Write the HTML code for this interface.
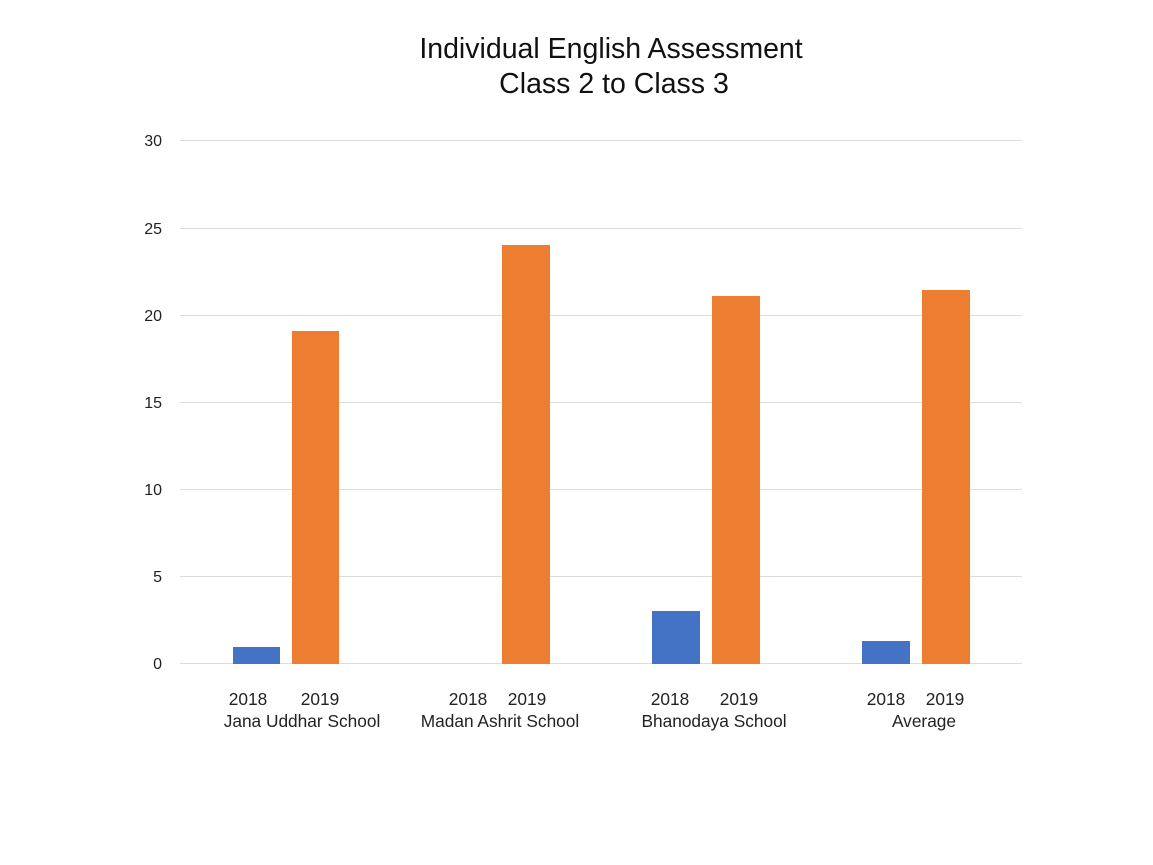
<!DOCTYPE html>
<html><head><meta charset="utf-8"><style>body{margin:0;background:#fff}svg{display:block}</style></head>
<body>
<svg width="1153" height="865" xmlns="http://www.w3.org/2000/svg" font-family="Liberation Sans, sans-serif">
<rect width="1153" height="865" fill="#fff"/>
<text x="611" y="58" font-size="28.5" text-anchor="middle" fill="#111">Individual English Assessment</text>
<text x="614" y="93" font-size="28.5" text-anchor="middle" fill="#111">Class 2 to Class 3</text>
<g stroke="#dcdcdc" stroke-width="1">
<line x1="180" x2="1022" y1="140.5" y2="140.5"/>
<line x1="180" x2="1022" y1="228.5" y2="228.5"/>
<line x1="180" x2="1022" y1="315.5" y2="315.5"/>
<line x1="180" x2="1022" y1="402.5" y2="402.5"/>
<line x1="180" x2="1022" y1="489.5" y2="489.5"/>
<line x1="180" x2="1022" y1="576.5" y2="576.5"/>
<line x1="180" x2="1022" y1="663.5" y2="663.5"/>
</g>
<g font-size="16" fill="#222" text-anchor="end">
<text x="162" y="146">30</text><text x="162" y="234">25</text><text x="162" y="321">20</text>
<text x="162" y="408">15</text><text x="162" y="495">10</text><text x="162" y="582">5</text><text x="162" y="669">0</text>
</g>
<g fill="#4472c4">
<rect x="233" y="647" width="47" height="17"/>
<rect x="652" y="611" width="48" height="53"/>
<rect x="862" y="641" width="48" height="23"/>
</g>
<g fill="#ed7d31">
<rect x="292" y="331" width="47" height="333"/>
<rect x="502" y="245" width="48" height="419"/>
<rect x="712" y="296" width="48" height="368"/>
<rect x="922" y="290" width="48" height="374"/>
</g>
<g font-size="17.3" fill="#222" text-anchor="middle">
<text x="248" y="705">2018</text><text x="320" y="705">2019</text>
<text x="468" y="705">2018</text><text x="527" y="705">2019</text>
<text x="670" y="705">2018</text><text x="739" y="705">2019</text>
<text x="886" y="705">2018</text><text x="945" y="705">2019</text>
<text x="302" y="727">Jana Uddhar School</text>
<text x="500" y="727">Madan Ashrit School</text>
<text x="714" y="727">Bhanodaya School</text>
<text x="924" y="727">Average</text>
</g>
</svg>
</body></html>
